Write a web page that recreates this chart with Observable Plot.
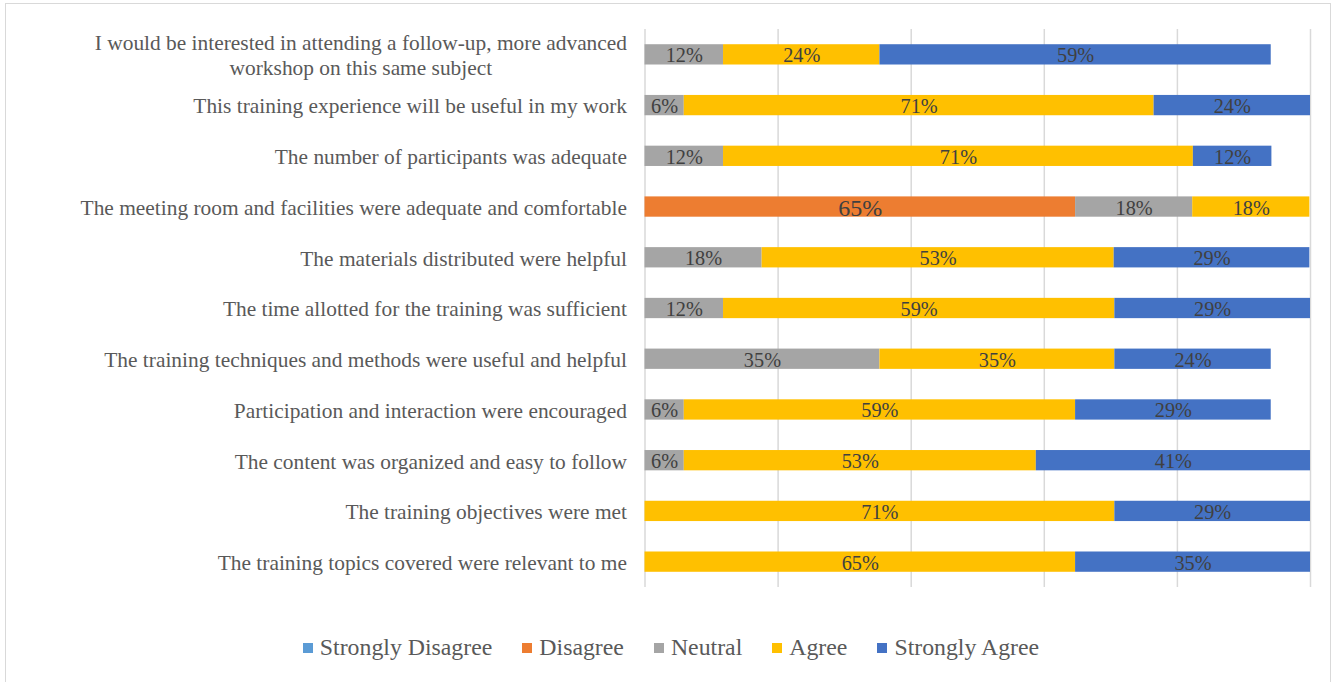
<!DOCTYPE html>
<html>
<head>
<meta charset="utf-8">
<script src="https://cdn.jsdelivr.net/npm/d3@7"></script>
<script src="https://cdn.jsdelivr.net/npm/@observablehq/plot@0.6"></script>
<style>
  html, body { margin: 0; padding: 0; background: #fff; }
  body { width: 1338px; height: 682px; position: relative; overflow: hidden; font-family: "Liberation Serif", "Times New Roman", serif; }
  #frame { position: absolute; left: 5px; top: 3px; width: 1326px; height: 700px; border: 1.5px solid #d9d9d9; box-sizing: border-box; }
  #chart { position: absolute; left: 0; top: 0; }
  #legend { position: absolute; left: 0; top: 634px; width: 1338px; display: flex; justify-content: center; align-items: center; font-size: 23.8px; color: #595959; padding-left: 4px; box-sizing: border-box; }
  .item { display: flex; align-items: center; margin: 0 15px; }
  .sw { width: 10px; height: 10px; margin-right: 7px; }
</style>
</head>
<body>
<div id="frame"></div>
<div id="chart"></div>
<div id="legend"></div>
<script>
const statements = [
  "I would be interested in attending a follow-up, more advanced\nworkshop on this same subject",
  "This training experience will be useful in my work",
  "The number of participants was adequate",
  "The meeting room and facilities were adequate and comfortable",
  "The materials distributed were helpful",
  "The time allotted for the training was sufficient",
  "The training techniques and methods were useful and helpful",
  "Participation and interaction were encouraged",
  "The content was organized and easy to follow",
  "The training objectives were met",
  "The training topics covered were relevant to me"
];
const categories = ["Strongly Disagree", "Disagree", "Neutral", "Agree", "Strongly Agree"];
const colors = ["#5B9BD5", "#ED7D31", "#A5A5A5", "#FFC000", "#4472C4"];

// percentages per statement (same order as statements)
const stronglyDisagree = [0, 0, 0, 0, 0, 0, 0, 0, 0, 0, 0];
const disagree         = [0, 0, 0, 64.7, 0, 0, 0, 0, 0, 0, 0];
const neutral          = [11.8, 5.9, 11.8, 17.6, 17.6, 11.8, 35.3, 5.9, 5.9, 0, 0];
const agree            = [23.5, 70.6, 70.6, 17.6, 52.9, 58.8, 35.3, 58.8, 52.9, 70.6, 64.7];
const stronglyAgree    = [58.8, 23.5, 11.8, 0, 29.4, 29.4, 23.5, 29.4, 41.2, 29.4, 35.3];
const gridTicks = [0, 20, 40, 60, 80, 100];

const series = [stronglyDisagree, disagree, neutral, agree, stronglyAgree];
const data = [];
statements.forEach((s, i) => {
  categories.forEach((c, j) => {
    const v = series[j][i];
    if (v > 0) data.push({statement: s, category: c, value: v});
  });
});

const chart = Plot.plot({
  width: 1338,
  height: 620,
  marginLeft: 644.5,
  marginRight: 28,
  marginTop: 29,
  marginBottom: 33,
  style: {fontFamily: "'Liberation Serif', 'Times New Roman', serif", background: "transparent"},
  x: {domain: [0, 100], axis: null},
  y: {domain: statements, paddingInner: 0.6, paddingOuter: 0.3, round: false, label: null},
  color: {domain: categories, range: colors},
  marks: [
    Plot.ruleX(gridTicks, {stroke: "#d9d9d9", strokeWidth: 1.5}),
    Plot.barX(data, Plot.stackX({x: "value", y: "statement", fill: "category", order: categories})),
    Plot.text(data, Plot.stackX({
      x: "value", y: "statement", z: "category", order: categories,
      text: d => Math.round(d.value) + "%",
      fill: "#404040",
      fontSize: d => d.category === "Disagree" ? 24 : 20.3,
      dy: 1
    })),
    Plot.axisY({
      tickSize: 0, tickPadding: 18, fontSize: 21.4, fill: "#595959", lineHeight: 1.15, label: null
    })
  ]
});
document.getElementById("chart").appendChild(chart);

// center the lines of multi-line tick labels (as in the original)
chart.querySelectorAll("g[aria-label='y-axis tick label'] text").forEach(t => {
  const spans = t.querySelectorAll("tspan");
  if (spans.length > 1) {
    let w = 0;
    spans.forEach(sp => { w = Math.max(w, sp.getComputedTextLength()); });
    t.setAttribute("text-anchor", "middle");
    spans.forEach(sp => sp.setAttribute("x", -w / 2));
  }
});

const legend = document.getElementById("legend");
categories.forEach((c, i) => {
  const item = document.createElement("div");
  item.className = "item";
  const sw = document.createElement("div");
  sw.className = "sw";
  sw.style.background = colors[i];
  const lab = document.createElement("span");
  lab.textContent = c;
  item.appendChild(sw);
  item.appendChild(lab);
  legend.appendChild(item);
});
</script>
</body>
</html>
